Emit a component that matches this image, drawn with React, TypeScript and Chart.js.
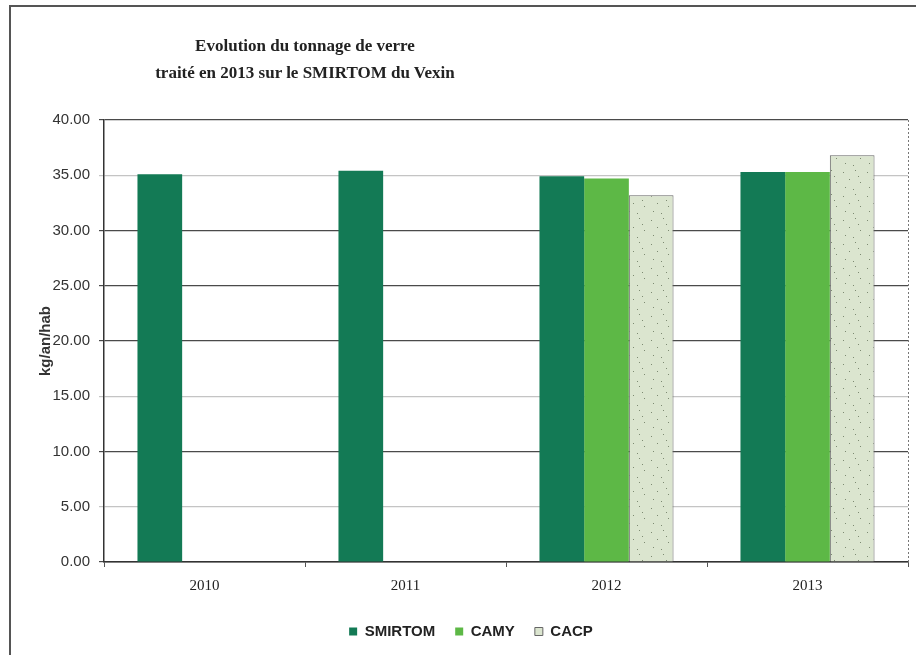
import React, { useEffect, useRef } from 'react';
import { Chart, registerables } from 'chart.js';

Chart.register(...registerables);

const categories = ['2010', '2011', '2012', '2013'];
const smirtomValues = [35.1, 35.4, 34.9, 35.3];
const camyValues = [null, null, 34.7, 35.3];
const cacpValues = [null, null, 33.2, 36.8];
const seriesNames = ['SMIRTOM', 'CAMY', 'CACP'];
const yMin = 0;
const yMax = 40;
const yStep = 5;
const lightGridValues = [35, 15, 5];
const titleLines = ['Evolution du tonnage de verre', 'traité en 2013 sur le SMIRTOM du Vexin'];
const yAxisTitle = 'kg/an/hab';

function makeSpeckle(): CanvasPattern | string {
  const c = document.createElement('canvas');
  c.width = 24;
  c.height = 24;
  const g = c.getContext('2d');
  if (!g) return '#dbe5cf';
  g.fillStyle = '#dbe5cf';
  g.fillRect(0, 0, 24, 24);
  g.fillStyle = '#7d8a72';
  const dots = [[3, 4], [15, 2], [9, 11], [20, 14], [5, 19], [13, 21], [18, 8]];
  dots.forEach(([x, y]) => g.fillRect(x, y, 1, 1));
  const p = g.createPattern(c, 'repeat');
  return p || '#dbe5cf';
}

const plotBorder = {
  id: 'plotBorder',
  afterDatasetsDraw(chart: any) {
    const { ctx, chartArea } = chart;
    ctx.save();
    ctx.strokeStyle = '#777';
    ctx.lineWidth = 1;
    ctx.setLineDash([2, 2]);
    ctx.beginPath();
    ctx.moveTo(chartArea.right + 0.5, chartArea.top);
    ctx.lineTo(chartArea.right + 0.5, chartArea.bottom);
    ctx.stroke();
    ctx.restore();
  },
};

export default function App() {
  const ref = useRef<HTMLCanvasElement>(null);

  useEffect(() => {
    if (!ref.current) return;
    const speckle = makeSpeckle();
    const chart = new Chart(ref.current, {
      type: 'bar',
      data: {
        labels: categories,
        datasets: [
          { label: seriesNames[0], data: smirtomValues, backgroundColor: '#137a55', borderWidth: 0 },
          { label: seriesNames[1], data: camyValues as any, backgroundColor: '#5db846', borderWidth: 0 },
          { label: seriesNames[2], data: cacpValues as any, backgroundColor: speckle as any, borderColor: '#666', borderWidth: 1 },
        ],
      },
      options: {
        animation: false,
        responsive: false,
        devicePixelRatio: 1,
        layout: { padding: { left: 34, right: 8, top: 120, bottom: 6 } },
        datasets: { bar: { categoryPercentage: 0.667, barPercentage: 1.0 } },
        plugins: {
          title: { display: false },
          tooltip: { enabled: false },
          legend: {
            position: 'bottom',
            labels: {
              boxWidth: 8,
              boxHeight: 8,
              padding: 20,
              color: '#222',
              font: { family: 'Liberation Sans', size: 15, weight: 'bold' },
            },
          },
        },
        scales: {
          x: {
            grid: { offset: true, drawOnChartArea: false, tickLength: 5, color: '#555' },
            border: { display: true, color: '#333', width: 1.5 },
            ticks: { color: '#222', padding: 10, font: { family: 'Liberation Serif', size: 15 } },
            afterFit: (s: any) => { s.height = 42; },
          },
          y: {
            min: yMin,
            max: yMax,
            ticks: {
              stepSize: yStep,
              padding: 9,
              color: '#333',
              font: { family: 'Liberation Sans', size: 15 },
              callback: (v: any) => Number(v).toFixed(2),
            },
            grid: {
              tickLength: 5,
              lineWidth: 1.2,
              color: (ctx: any) => (lightGridValues.includes(ctx.tick?.value) ? '#c4c4c4' : '#4a4a4a'),
            },
            border: { display: true, color: '#333', width: 1.5 },
            title: {
              display: true,
              text: yAxisTitle,
              color: '#333',
              font: { family: 'Liberation Sans', size: 15, weight: 'bold' },
              padding: { top: 3, bottom: 3 },
            },
            afterFit: (s: any) => { s.width = 70; },
          },
        },
      },
      plugins: [plotBorder],
    });
    return () => chart.destroy();
  }, []);

  return (
    <div style={{ position: 'fixed', left: 0, top: 0, width: 916, height: 655, background: '#fff', overflow: 'hidden' }}>
      <div style={{ position: 'absolute', left: 9, top: 5, width: 920, height: 670, borderTop: '2px solid #555', borderLeft: '2px solid #555' }} />
      <canvas ref={ref} width={916} height={655} style={{ position: 'absolute', left: 0, top: 0, width: 916, height: 655 }} />
      <div
        style={{
          position: 'absolute',
          left: 105,
          top: 32,
          width: 400,
          textAlign: 'center',
          fontFamily: '"Liberation Serif", serif',
          fontWeight: 'bold',
          fontSize: 17,
          lineHeight: '27px',
          color: '#222',
        }}
      >
        {titleLines.map((t) => (
          <div key={t}>{t}</div>
        ))}
      </div>
    </div>
  );
}
